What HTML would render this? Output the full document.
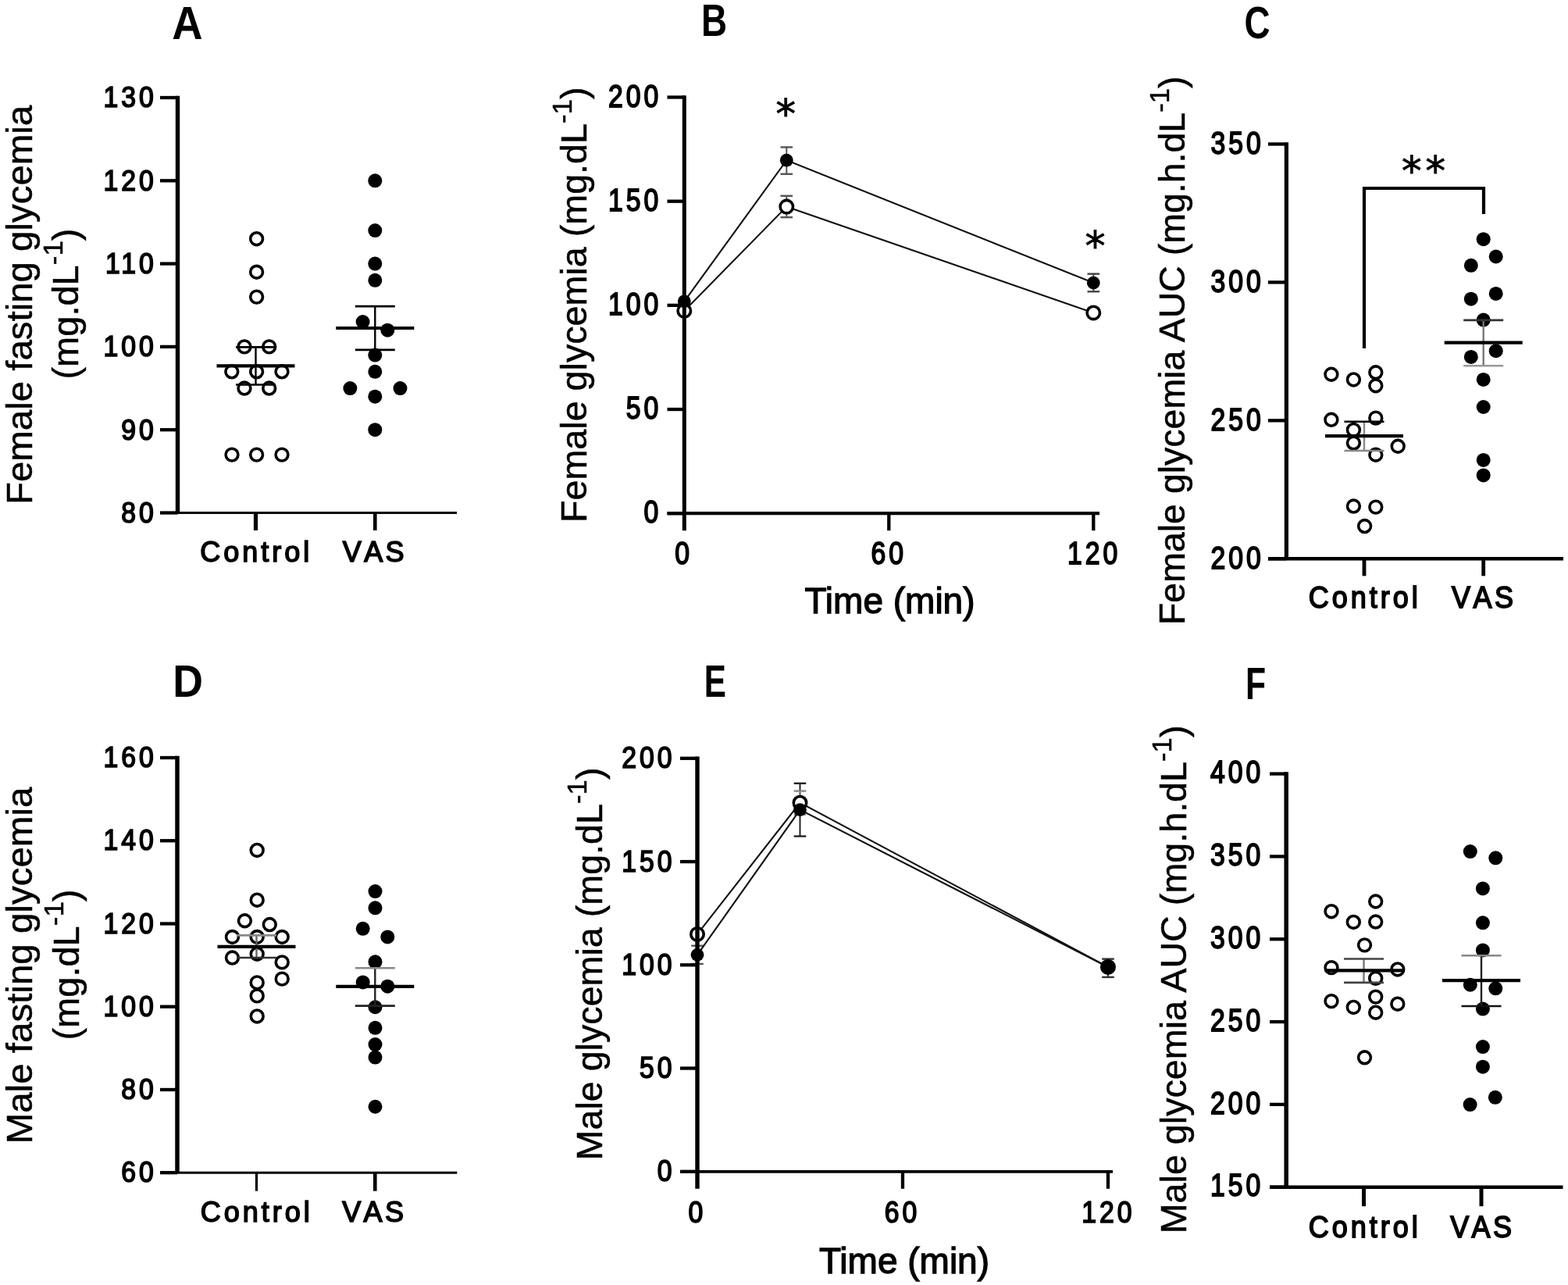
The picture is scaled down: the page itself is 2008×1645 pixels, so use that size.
<!DOCTYPE html>
<html><head><meta charset="utf-8"><title>Figure</title>
<style>html,body{margin:0;padding:0;background:#fff;}svg{display:block;}</style>
</head><body>
<svg xmlns="http://www.w3.org/2000/svg" width="2008" height="1645" viewBox="0 0 2008 1645">
<rect width="2008" height="1645" fill="#fff"/>
<g font-family='"Liberation Sans", Arial, Helvetica, sans-serif' fill="#000">
<line x1="227.50" y1="122.70" x2="227.50" y2="656.50" stroke="#000" stroke-width="5.4" stroke-linecap="butt"/>
<line x1="205.00" y1="656.50" x2="227.50" y2="656.50" stroke="#000" stroke-width="4.3" stroke-linecap="butt"/>
<text transform="translate(200.66,668.91) scale(0.9,1.0)" font-size="37.5" text-anchor="end" font-weight="normal" letter-spacing="4.4" stroke="#000" stroke-width="1.7">80</text>
<line x1="205.00" y1="550.20" x2="227.50" y2="550.20" stroke="#000" stroke-width="4.3" stroke-linecap="butt"/>
<text transform="translate(200.66,562.61) scale(0.9,1.0)" font-size="37.5" text-anchor="end" font-weight="normal" letter-spacing="4.4" stroke="#000" stroke-width="1.7">90</text>
<line x1="205.00" y1="443.90" x2="227.50" y2="443.90" stroke="#000" stroke-width="4.3" stroke-linecap="butt"/>
<text transform="translate(200.66,456.31) scale(0.9,1.0)" font-size="37.5" text-anchor="end" font-weight="normal" letter-spacing="4.4" stroke="#000" stroke-width="1.7">100</text>
<line x1="205.00" y1="337.60" x2="227.50" y2="337.60" stroke="#000" stroke-width="4.3" stroke-linecap="butt"/>
<text transform="translate(200.66,350.01) scale(0.9,1.0)" font-size="37.5" text-anchor="end" font-weight="normal" letter-spacing="4.4" stroke="#000" stroke-width="1.7">110</text>
<line x1="205.00" y1="231.30" x2="227.50" y2="231.30" stroke="#000" stroke-width="4.3" stroke-linecap="butt"/>
<text transform="translate(200.66,243.71) scale(0.9,1.0)" font-size="37.5" text-anchor="end" font-weight="normal" letter-spacing="4.4" stroke="#000" stroke-width="1.7">120</text>
<line x1="205.00" y1="125.00" x2="227.50" y2="125.00" stroke="#000" stroke-width="4.3" stroke-linecap="butt"/>
<text transform="translate(200.66,137.41) scale(0.9,1.0)" font-size="37.5" text-anchor="end" font-weight="normal" letter-spacing="4.4" stroke="#000" stroke-width="1.7">130</text>
<line x1="205.00" y1="656.50" x2="585.00" y2="656.50" stroke="#000" stroke-width="3.0" stroke-linecap="butt"/>
<line x1="327.50" y1="656.50" x2="327.50" y2="679.00" stroke="#000" stroke-width="5.2" stroke-linecap="butt"/>
<text x="328.30" y="718.50" font-size="36" text-anchor="middle" font-weight="normal" letter-spacing="4.0" stroke="#000" stroke-width="1.6" style="font-kerning:none">Control</text>
<line x1="480.30" y1="656.50" x2="480.30" y2="679.00" stroke="#000" stroke-width="4.6" stroke-linecap="butt"/>
<text x="479.90" y="718.50" font-size="36" text-anchor="middle" font-weight="normal" letter-spacing="3.4" stroke="#000" stroke-width="1.6" style="font-kerning:none">VAS</text>
<circle cx="328.60" cy="305.71" r="7.9" fill="none" stroke="#000" stroke-width="3.6"/>
<circle cx="328.60" cy="348.23" r="7.9" fill="none" stroke="#000" stroke-width="3.6"/>
<circle cx="328.60" cy="380.12" r="7.9" fill="none" stroke="#000" stroke-width="3.6"/>
<circle cx="313.00" cy="443.90" r="7.9" fill="none" stroke="#000" stroke-width="3.6"/>
<circle cx="344.70" cy="443.90" r="7.9" fill="none" stroke="#000" stroke-width="3.6"/>
<circle cx="296.80" cy="475.79" r="7.9" fill="none" stroke="#000" stroke-width="3.6"/>
<circle cx="328.60" cy="475.79" r="7.9" fill="none" stroke="#000" stroke-width="3.6"/>
<circle cx="361.00" cy="475.79" r="7.9" fill="none" stroke="#000" stroke-width="3.6"/>
<circle cx="313.00" cy="497.05" r="7.9" fill="none" stroke="#000" stroke-width="3.6"/>
<circle cx="344.70" cy="497.05" r="7.9" fill="none" stroke="#000" stroke-width="3.6"/>
<circle cx="297.00" cy="582.09" r="7.9" fill="none" stroke="#000" stroke-width="3.6"/>
<circle cx="328.60" cy="582.09" r="7.9" fill="none" stroke="#000" stroke-width="3.6"/>
<circle cx="361.00" cy="582.09" r="7.9" fill="none" stroke="#000" stroke-width="3.6"/>
<circle cx="480.30" cy="231.30" r="9.0" fill="#000"/>
<circle cx="480.30" cy="295.08" r="9.0" fill="#000"/>
<circle cx="480.30" cy="337.60" r="9.0" fill="#000"/>
<circle cx="480.30" cy="358.86" r="9.0" fill="#000"/>
<circle cx="464.60" cy="412.01" r="9.0" fill="#000"/>
<circle cx="496.30" cy="422.64" r="9.0" fill="#000"/>
<circle cx="480.30" cy="454.53" r="9.0" fill="#000"/>
<circle cx="480.30" cy="475.79" r="9.0" fill="#000"/>
<circle cx="448.40" cy="497.05" r="9.0" fill="#000"/>
<circle cx="512.50" cy="497.05" r="9.0" fill="#000"/>
<circle cx="480.30" cy="507.68" r="9.0" fill="#000"/>
<circle cx="480.30" cy="550.20" r="9.0" fill="#000"/>
<line x1="327.50" y1="492.48" x2="327.50" y2="444.33" stroke="#000" stroke-width="2.4" stroke-linecap="butt"/>
<line x1="302.00" y1="444.33" x2="353.00" y2="444.33" stroke="#000" stroke-width="2.6" stroke-linecap="butt"/>
<line x1="302.00" y1="492.48" x2="353.00" y2="492.48" stroke="#000" stroke-width="2.6" stroke-linecap="butt"/>
<line x1="277.50" y1="468.46" x2="377.50" y2="468.46" stroke="#000" stroke-width="4.2" stroke-linecap="butt"/>
<line x1="480.30" y1="447.83" x2="480.30" y2="392.13" stroke="#000" stroke-width="2.4" stroke-linecap="butt"/>
<line x1="454.80" y1="392.13" x2="505.80" y2="392.13" stroke="#000" stroke-width="2.6" stroke-linecap="butt"/>
<line x1="454.80" y1="447.83" x2="505.80" y2="447.83" stroke="#000" stroke-width="2.6" stroke-linecap="butt"/>
<line x1="430.30" y1="419.98" x2="530.30" y2="419.98" stroke="#000" stroke-width="4.2" stroke-linecap="butt"/>
<text transform="translate(41.00,390.40) rotate(-90) scale(1.009,1)" font-size="47" text-anchor="middle" font-weight="normal" stroke="#000" stroke-width="0.5"><tspan>Female fasting glycemia</tspan></text>
<text transform="translate(99.50,389.00) rotate(-90)" font-size="47" text-anchor="middle" font-weight="normal" stroke="#000" stroke-width="0.5"><tspan>(mg.dL</tspan><tspan font-size="35" dy="-19.7">-1</tspan><tspan dy="19.7">)</tspan></text>
<text transform="translate(220.15,50.00) scale(0.9242,1)" font-size="58.87" font-weight="bold">A</text>
<text transform="translate(847.16,669.20) scale(0.9,1.1)" font-size="37.5" text-anchor="end" font-weight="normal" letter-spacing="4.4" stroke="#000" stroke-width="1.7">0</text>
<text transform="translate(847.16,536.02) scale(0.9,1.1)" font-size="37.5" text-anchor="end" font-weight="normal" letter-spacing="4.4" stroke="#000" stroke-width="1.7">50</text>
<text transform="translate(847.16,402.85) scale(0.9,1.1)" font-size="37.5" text-anchor="end" font-weight="normal" letter-spacing="4.4" stroke="#000" stroke-width="1.7">100</text>
<text transform="translate(847.16,269.67) scale(0.9,1.1)" font-size="37.5" text-anchor="end" font-weight="normal" letter-spacing="4.4" stroke="#000" stroke-width="1.7">150</text>
<text transform="translate(847.16,136.50) scale(0.9,1.1)" font-size="37.5" text-anchor="end" font-weight="normal" letter-spacing="4.4" stroke="#000" stroke-width="1.7">200</text>
<text transform="translate(875.58,722.20) scale(0.9,1.1)" font-size="37.5" text-anchor="middle" font-weight="normal" letter-spacing="4.4" stroke="#000" stroke-width="1.7">0</text>
<text transform="translate(1138.18,722.20) scale(0.9,1.1)" font-size="37.5" text-anchor="middle" font-weight="normal" letter-spacing="4.4" stroke="#000" stroke-width="1.7">60</text>
<text transform="translate(1401.18,722.20) scale(0.9,1.1)" font-size="37.5" text-anchor="middle" font-weight="normal" letter-spacing="4.4" stroke="#000" stroke-width="1.7">120</text>
<text x="1139.50" y="785.40" font-size="46" text-anchor="middle" font-weight="normal" stroke="#000" stroke-width="1.3">Time (min)</text>
<line x1="1007.30" y1="222.78" x2="1007.30" y2="188.42" stroke="#555" stroke-width="2.0" stroke-linecap="butt"/>
<line x1="999.50" y1="188.42" x2="1015.10" y2="188.42" stroke="#555" stroke-width="2.4" stroke-linecap="butt"/>
<line x1="999.50" y1="222.78" x2="1015.10" y2="222.78" stroke="#555" stroke-width="2.4" stroke-linecap="butt"/>
<line x1="1007.30" y1="278.18" x2="1007.30" y2="250.75" stroke="#555" stroke-width="2.0" stroke-linecap="butt"/>
<line x1="999.50" y1="250.75" x2="1015.10" y2="250.75" stroke="#555" stroke-width="2.4" stroke-linecap="butt"/>
<line x1="999.50" y1="278.18" x2="1015.10" y2="278.18" stroke="#555" stroke-width="2.4" stroke-linecap="butt"/>
<line x1="1400.30" y1="373.27" x2="1400.30" y2="350.63" stroke="#444" stroke-width="2.0" stroke-linecap="butt"/>
<line x1="1392.50" y1="350.63" x2="1408.10" y2="350.63" stroke="#444" stroke-width="2.4" stroke-linecap="butt"/>
<line x1="1392.50" y1="373.27" x2="1408.10" y2="373.27" stroke="#444" stroke-width="2.4" stroke-linecap="butt"/>
<polyline points="876.30,398.04 1007.30,264.60 1400.30,400.44" fill="none" stroke="#111" stroke-width="2.1"/>
<polyline points="876.30,385.79 1007.30,205.20 1400.30,362.08" fill="none" stroke="#111" stroke-width="2.1"/>
<circle cx="876.30" cy="398.04" r="8.2" fill="#fff" stroke="#000" stroke-width="3.6"/>
<circle cx="1007.30" cy="264.60" r="8.2" fill="#fff" stroke="#000" stroke-width="3.6"/>
<circle cx="1400.30" cy="400.44" r="8.2" fill="#fff" stroke="#000" stroke-width="3.6"/>
<circle cx="876.30" cy="385.79" r="8.4" fill="#000"/>
<circle cx="1007.30" cy="205.20" r="8.4" fill="#000"/>
<circle cx="1400.30" cy="362.08" r="8.4" fill="#000"/>
<line x1="876.30" y1="122.20" x2="876.30" y2="679.20" stroke="#000" stroke-width="5.0" stroke-linecap="butt"/>
<line x1="854.50" y1="657.20" x2="876.30" y2="657.20" stroke="#000" stroke-width="4.3" stroke-linecap="butt"/>
<line x1="854.50" y1="524.03" x2="876.30" y2="524.03" stroke="#000" stroke-width="4.3" stroke-linecap="butt"/>
<line x1="854.50" y1="390.85" x2="876.30" y2="390.85" stroke="#000" stroke-width="4.3" stroke-linecap="butt"/>
<line x1="854.50" y1="257.68" x2="876.30" y2="257.68" stroke="#000" stroke-width="4.3" stroke-linecap="butt"/>
<line x1="854.50" y1="124.50" x2="876.30" y2="124.50" stroke="#000" stroke-width="4.3" stroke-linecap="butt"/>
<line x1="854.50" y1="657.20" x2="1408.00" y2="657.20" stroke="#000" stroke-width="4.3" stroke-linecap="butt"/>
<line x1="1138.30" y1="657.20" x2="1138.30" y2="679.20" stroke="#000" stroke-width="4.3" stroke-linecap="butt"/>
<line x1="1400.30" y1="657.20" x2="1400.30" y2="679.20" stroke="#000" stroke-width="4.3" stroke-linecap="butt"/>
<text transform="translate(751.40,390.30) rotate(-90) scale(0.9935,1)" font-size="47" text-anchor="middle" font-weight="normal" stroke="#000" stroke-width="0.5"><tspan>Female glycemia (mg.dL</tspan><tspan font-size="35" dy="-19.7">-1</tspan><tspan dy="19.7">)</tspan></text>
<text transform="translate(897.93,46.30) scale(0.7896,1)" font-size="58.14" font-weight="bold">B</text>
<text x="1006.30" y="163.70" font-size="51" text-anchor="middle" font-weight="normal" font-family="DejaVu Sans" stroke="#000" stroke-width="0.9">*</text>
<text x="1402.60" y="333.30" font-size="52" text-anchor="middle" font-weight="normal" font-family="DejaVu Sans" stroke="#000" stroke-width="0.9">*</text>
<line x1="1647.40" y1="182.15" x2="1647.40" y2="715.30" stroke="#000" stroke-width="5.2" stroke-linecap="butt"/>
<line x1="1624.00" y1="715.30" x2="1647.40" y2="715.30" stroke="#000" stroke-width="4.3" stroke-linecap="butt"/>
<text transform="translate(1618.76,727.60) scale(0.9,1.1)" font-size="37.5" text-anchor="end" font-weight="normal" letter-spacing="4.4" stroke="#000" stroke-width="1.7">200</text>
<line x1="1624.00" y1="538.35" x2="1647.40" y2="538.35" stroke="#000" stroke-width="4.3" stroke-linecap="butt"/>
<text transform="translate(1618.76,550.65) scale(0.9,1.1)" font-size="37.5" text-anchor="end" font-weight="normal" letter-spacing="4.4" stroke="#000" stroke-width="1.7">250</text>
<line x1="1624.00" y1="361.40" x2="1647.40" y2="361.40" stroke="#000" stroke-width="4.3" stroke-linecap="butt"/>
<text transform="translate(1618.76,373.70) scale(0.9,1.1)" font-size="37.5" text-anchor="end" font-weight="normal" letter-spacing="4.4" stroke="#000" stroke-width="1.7">300</text>
<line x1="1624.00" y1="184.45" x2="1647.40" y2="184.45" stroke="#000" stroke-width="4.3" stroke-linecap="butt"/>
<text transform="translate(1618.76,196.75) scale(0.9,1.1)" font-size="37.5" text-anchor="end" font-weight="normal" letter-spacing="4.4" stroke="#000" stroke-width="1.7">350</text>
<line x1="1624.00" y1="715.30" x2="2002.00" y2="715.30" stroke="#000" stroke-width="4.4" stroke-linecap="butt"/>
<line x1="1747.00" y1="715.30" x2="1747.00" y2="737.30" stroke="#000" stroke-width="4.8" stroke-linecap="butt"/>
<text transform="translate(1747.80,778.30) scale(1.0,1.1)" font-size="36" text-anchor="middle" font-weight="normal" letter-spacing="4.0" stroke="#000" stroke-width="1.6" style="font-kerning:none">Control</text>
<line x1="1899.70" y1="715.30" x2="1899.70" y2="737.30" stroke="#000" stroke-width="4.8" stroke-linecap="butt"/>
<text transform="translate(1900.20,778.30) scale(1.0,1.1)" font-size="36" text-anchor="middle" font-weight="normal" letter-spacing="3.4" stroke="#000" stroke-width="1.6" style="font-kerning:none">VAS</text>
<circle cx="1704.90" cy="479.25" r="7.9" fill="none" stroke="#000" stroke-width="3.6"/>
<circle cx="1733.40" cy="485.97" r="7.9" fill="none" stroke="#000" stroke-width="3.6"/>
<circle cx="1761.80" cy="476.77" r="7.9" fill="none" stroke="#000" stroke-width="3.6"/>
<circle cx="1761.80" cy="493.76" r="7.9" fill="none" stroke="#000" stroke-width="3.6"/>
<circle cx="1704.90" cy="537.29" r="7.9" fill="none" stroke="#000" stroke-width="3.6"/>
<circle cx="1761.80" cy="535.16" r="7.9" fill="none" stroke="#000" stroke-width="3.6"/>
<circle cx="1733.40" cy="550.38" r="7.9" fill="none" stroke="#000" stroke-width="3.6"/>
<circle cx="1733.40" cy="567.02" r="7.9" fill="none" stroke="#000" stroke-width="3.6"/>
<circle cx="1790.20" cy="571.26" r="7.9" fill="none" stroke="#000" stroke-width="3.6"/>
<circle cx="1761.80" cy="582.23" r="7.9" fill="none" stroke="#000" stroke-width="3.6"/>
<circle cx="1733.40" cy="648.06" r="7.9" fill="none" stroke="#000" stroke-width="3.6"/>
<circle cx="1761.80" cy="649.12" r="7.9" fill="none" stroke="#000" stroke-width="3.6"/>
<circle cx="1747.60" cy="673.54" r="7.9" fill="none" stroke="#000" stroke-width="3.6"/>
<circle cx="1899.70" cy="306.19" r="9.0" fill="#000"/>
<circle cx="1915.70" cy="328.49" r="9.0" fill="#000"/>
<circle cx="1883.80" cy="339.81" r="9.0" fill="#000"/>
<circle cx="1915.70" cy="375.91" r="9.0" fill="#000"/>
<circle cx="1883.80" cy="382.63" r="9.0" fill="#000"/>
<circle cx="1899.70" cy="409.53" r="9.0" fill="#000"/>
<circle cx="1915.70" cy="449.17" r="9.0" fill="#000"/>
<circle cx="1883.80" cy="456.95" r="9.0" fill="#000"/>
<circle cx="1899.70" cy="485.97" r="9.0" fill="#000"/>
<circle cx="1899.70" cy="521.01" r="9.0" fill="#000"/>
<circle cx="1899.70" cy="588.96" r="9.0" fill="#000"/>
<circle cx="1899.70" cy="608.42" r="9.0" fill="#000"/>
<line x1="1747.00" y1="576.93" x2="1747.00" y2="539.77" stroke="#888" stroke-width="2.4" stroke-linecap="butt"/>
<line x1="1721.50" y1="539.77" x2="1772.50" y2="539.77" stroke="#000" stroke-width="2.6" stroke-linecap="butt"/>
<line x1="1721.50" y1="576.93" x2="1772.50" y2="576.93" stroke="#888" stroke-width="2.6" stroke-linecap="butt"/>
<line x1="1697.00" y1="558.17" x2="1797.00" y2="558.17" stroke="#000" stroke-width="4.2" stroke-linecap="butt"/>
<line x1="1899.70" y1="468.28" x2="1899.70" y2="409.88" stroke="#777" stroke-width="2.4" stroke-linecap="butt"/>
<line x1="1874.20" y1="409.88" x2="1925.20" y2="409.88" stroke="#333" stroke-width="2.6" stroke-linecap="butt"/>
<line x1="1874.20" y1="468.28" x2="1925.20" y2="468.28" stroke="#999" stroke-width="2.6" stroke-linecap="butt"/>
<line x1="1849.70" y1="438.55" x2="1949.70" y2="438.55" stroke="#000" stroke-width="4.2" stroke-linecap="butt"/>
<text transform="translate(1517.00,448.80) rotate(-90) scale(0.9893,1)" font-size="47" text-anchor="middle" font-weight="normal" stroke="#000" stroke-width="0.5"><tspan>Female glycemia AUC (mg.h.dL</tspan><tspan font-size="35" dy="-19.7">-1</tspan><tspan dy="19.7">)</tspan></text>
<text transform="translate(1593.42,48.94) scale(0.7995,1)" font-size="57.20" font-weight="bold">C</text>
<polyline points="1747,446 1747,241 1900,241 1900,274" fill="none" stroke="#000" stroke-width="4.2"/>
<text x="1825.40" y="237.00" font-size="51" text-anchor="middle" font-weight="normal" font-family="DejaVu Sans" stroke="#000" stroke-width="0.9" letter-spacing="5">**</text>
<line x1="227.00" y1="967.70" x2="227.00" y2="1501.20" stroke="#000" stroke-width="5.5" stroke-linecap="butt"/>
<line x1="205.00" y1="1501.20" x2="227.00" y2="1501.20" stroke="#000" stroke-width="4.3" stroke-linecap="butt"/>
<text transform="translate(200.66,1513.31) scale(0.9,1.0)" font-size="37.5" text-anchor="end" font-weight="normal" letter-spacing="4.4" stroke="#000" stroke-width="1.7">60</text>
<line x1="205.00" y1="1394.96" x2="227.00" y2="1394.96" stroke="#000" stroke-width="4.3" stroke-linecap="butt"/>
<text transform="translate(200.66,1407.07) scale(0.9,1.0)" font-size="37.5" text-anchor="end" font-weight="normal" letter-spacing="4.4" stroke="#000" stroke-width="1.7">80</text>
<line x1="205.00" y1="1288.72" x2="227.00" y2="1288.72" stroke="#000" stroke-width="4.3" stroke-linecap="butt"/>
<text transform="translate(200.66,1300.83) scale(0.9,1.0)" font-size="37.5" text-anchor="end" font-weight="normal" letter-spacing="4.4" stroke="#000" stroke-width="1.7">100</text>
<line x1="205.00" y1="1182.48" x2="227.00" y2="1182.48" stroke="#000" stroke-width="4.3" stroke-linecap="butt"/>
<text transform="translate(200.66,1194.59) scale(0.9,1.0)" font-size="37.5" text-anchor="end" font-weight="normal" letter-spacing="4.4" stroke="#000" stroke-width="1.7">120</text>
<line x1="205.00" y1="1076.24" x2="227.00" y2="1076.24" stroke="#000" stroke-width="4.3" stroke-linecap="butt"/>
<text transform="translate(200.66,1088.35) scale(0.9,1.0)" font-size="37.5" text-anchor="end" font-weight="normal" letter-spacing="4.4" stroke="#000" stroke-width="1.7">140</text>
<line x1="205.00" y1="970.00" x2="227.00" y2="970.00" stroke="#000" stroke-width="4.3" stroke-linecap="butt"/>
<text transform="translate(200.66,982.11) scale(0.9,1.0)" font-size="37.5" text-anchor="end" font-weight="normal" letter-spacing="4.4" stroke="#000" stroke-width="1.7">160</text>
<line x1="205.00" y1="1501.20" x2="585.30" y2="1501.20" stroke="#000" stroke-width="2.9" stroke-linecap="butt"/>
<line x1="328.50" y1="1501.20" x2="328.50" y2="1524.70" stroke="#000" stroke-width="3.2" stroke-linecap="butt"/>
<text x="328.70" y="1564.40" font-size="36" text-anchor="middle" font-weight="normal" letter-spacing="4.0" stroke="#000" stroke-width="1.6" style="font-kerning:none">Control</text>
<line x1="480.30" y1="1501.20" x2="480.30" y2="1524.70" stroke="#000" stroke-width="4.6" stroke-linecap="butt"/>
<text x="479.30" y="1564.40" font-size="36" text-anchor="middle" font-weight="normal" letter-spacing="3.4" stroke="#000" stroke-width="1.6" style="font-kerning:none">VAS</text>
<circle cx="329.20" cy="1088.46" r="7.9" fill="none" stroke="#000" stroke-width="3.6"/>
<circle cx="329.20" cy="1152.20" r="7.9" fill="none" stroke="#000" stroke-width="3.6"/>
<circle cx="313.40" cy="1178.76" r="7.9" fill="none" stroke="#000" stroke-width="3.6"/>
<circle cx="345.30" cy="1183.54" r="7.9" fill="none" stroke="#000" stroke-width="3.6"/>
<circle cx="297.50" cy="1199.48" r="7.9" fill="none" stroke="#000" stroke-width="3.6"/>
<circle cx="329.20" cy="1199.48" r="7.9" fill="none" stroke="#000" stroke-width="3.6"/>
<circle cx="361.20" cy="1199.48" r="7.9" fill="none" stroke="#000" stroke-width="3.6"/>
<circle cx="297.50" cy="1226.04" r="7.9" fill="none" stroke="#000" stroke-width="3.6"/>
<circle cx="329.20" cy="1221.26" r="7.9" fill="none" stroke="#000" stroke-width="3.6"/>
<circle cx="361.20" cy="1231.88" r="7.9" fill="none" stroke="#000" stroke-width="3.6"/>
<circle cx="361.20" cy="1253.13" r="7.9" fill="none" stroke="#000" stroke-width="3.6"/>
<circle cx="329.20" cy="1257.91" r="7.9" fill="none" stroke="#000" stroke-width="3.6"/>
<circle cx="329.20" cy="1274.91" r="7.9" fill="none" stroke="#000" stroke-width="3.6"/>
<circle cx="329.20" cy="1300.94" r="7.9" fill="none" stroke="#000" stroke-width="3.6"/>
<circle cx="480.50" cy="1141.05" r="9.0" fill="#000"/>
<circle cx="480.50" cy="1162.29" r="9.0" fill="#000"/>
<circle cx="464.70" cy="1188.85" r="9.0" fill="#000"/>
<circle cx="496.30" cy="1199.48" r="9.0" fill="#000"/>
<circle cx="480.50" cy="1231.35" r="9.0" fill="#000"/>
<circle cx="464.70" cy="1257.38" r="9.0" fill="#000"/>
<circle cx="496.30" cy="1262.69" r="9.0" fill="#000"/>
<circle cx="480.50" cy="1289.25" r="9.0" fill="#000"/>
<circle cx="480.50" cy="1315.81" r="9.0" fill="#000"/>
<circle cx="480.50" cy="1337.06" r="9.0" fill="#000"/>
<circle cx="480.50" cy="1353.53" r="9.0" fill="#000"/>
<circle cx="480.50" cy="1416.74" r="9.0" fill="#000"/>
<line x1="328.50" y1="1226.04" x2="328.50" y2="1197.35" stroke="#666" stroke-width="2.4" stroke-linecap="butt"/>
<line x1="303.00" y1="1197.35" x2="354.00" y2="1197.35" stroke="#888" stroke-width="2.6" stroke-linecap="butt"/>
<line x1="303.00" y1="1226.04" x2="354.00" y2="1226.04" stroke="#333" stroke-width="2.6" stroke-linecap="butt"/>
<line x1="278.50" y1="1211.96" x2="378.50" y2="1211.96" stroke="#000" stroke-width="4.2" stroke-linecap="butt"/>
<line x1="480.30" y1="1287.66" x2="480.30" y2="1239.32" stroke="#222" stroke-width="2.4" stroke-linecap="butt"/>
<line x1="454.80" y1="1239.32" x2="505.80" y2="1239.32" stroke="#888" stroke-width="2.6" stroke-linecap="butt"/>
<line x1="454.80" y1="1287.66" x2="505.80" y2="1287.66" stroke="#222" stroke-width="2.6" stroke-linecap="butt"/>
<line x1="430.30" y1="1262.96" x2="530.30" y2="1262.96" stroke="#000" stroke-width="4.2" stroke-linecap="butt"/>
<text transform="translate(40.70,1236.00) rotate(-90) scale(1.011,1)" font-size="47" text-anchor="middle" font-weight="normal" stroke="#000" stroke-width="0.5"><tspan>Male fasting glycemia</tspan></text>
<text transform="translate(101.00,1235.00) rotate(-90)" font-size="47" text-anchor="middle" font-weight="normal" stroke="#000" stroke-width="0.5"><tspan>(mg.dL</tspan><tspan font-size="35" dy="-19.7">-1</tspan><tspan dy="19.7">)</tspan></text>
<text transform="translate(221.21,892.20) scale(0.9273,1)" font-size="57.85" font-weight="bold">D</text>
<text transform="translate(864.56,1512.47) scale(0.9,1.02)" font-size="37.5" text-anchor="end" font-weight="normal" letter-spacing="4.4" stroke="#000" stroke-width="1.7">0</text>
<text transform="translate(864.56,1380.22) scale(0.9,1.02)" font-size="37.5" text-anchor="end" font-weight="normal" letter-spacing="4.4" stroke="#000" stroke-width="1.7">50</text>
<text transform="translate(864.56,1247.97) scale(0.9,1.02)" font-size="37.5" text-anchor="end" font-weight="normal" letter-spacing="4.4" stroke="#000" stroke-width="1.7">100</text>
<text transform="translate(864.56,1115.72) scale(0.9,1.02)" font-size="37.5" text-anchor="end" font-weight="normal" letter-spacing="4.4" stroke="#000" stroke-width="1.7">150</text>
<text transform="translate(864.56,983.47) scale(0.9,1.02)" font-size="37.5" text-anchor="end" font-weight="normal" letter-spacing="4.4" stroke="#000" stroke-width="1.7">200</text>
<text transform="translate(892.98,1564.80) scale(0.9,1.02)" font-size="37.5" text-anchor="middle" font-weight="normal" letter-spacing="4.4" stroke="#000" stroke-width="1.7">0</text>
<text transform="translate(1155.38,1564.80) scale(0.9,1.02)" font-size="37.5" text-anchor="middle" font-weight="normal" letter-spacing="4.4" stroke="#000" stroke-width="1.7">60</text>
<text transform="translate(1419.38,1564.80) scale(0.9,1.02)" font-size="37.5" text-anchor="middle" font-weight="normal" letter-spacing="4.4" stroke="#000" stroke-width="1.7">120</text>
<text x="1158.00" y="1629.80" font-size="46" text-anchor="middle" font-weight="normal" stroke="#000" stroke-width="1.3">Time (min)</text>
<line x1="1024.49" y1="1070.52" x2="1024.49" y2="1002.80" stroke="#222" stroke-width="2.0" stroke-linecap="butt"/>
<line x1="1016.69" y1="1002.80" x2="1032.29" y2="1002.80" stroke="#222" stroke-width="2.4" stroke-linecap="butt"/>
<line x1="1016.69" y1="1070.52" x2="1032.29" y2="1070.52" stroke="#222" stroke-width="2.4" stroke-linecap="butt"/>
<line x1="1024.49" y1="1042.74" x2="1024.49" y2="1012.59" stroke="#888" stroke-width="2.0" stroke-linecap="butt"/>
<line x1="1016.69" y1="1012.59" x2="1032.29" y2="1012.59" stroke="#888" stroke-width="2.4" stroke-linecap="butt"/>
<line x1="1016.69" y1="1042.74" x2="1032.29" y2="1042.74" stroke="#888" stroke-width="2.4" stroke-linecap="butt"/>
<line x1="1418.96" y1="1250.91" x2="1418.96" y2="1227.63" stroke="#333" stroke-width="2.0" stroke-linecap="butt"/>
<line x1="1411.16" y1="1227.63" x2="1426.76" y2="1227.63" stroke="#333" stroke-width="2.4" stroke-linecap="butt"/>
<line x1="1411.16" y1="1250.91" x2="1426.76" y2="1250.91" stroke="#333" stroke-width="2.4" stroke-linecap="butt"/>
<line x1="893.00" y1="1233.98" x2="893.00" y2="1210.70" stroke="#555" stroke-width="2.0" stroke-linecap="butt"/>
<line x1="885.20" y1="1210.70" x2="900.80" y2="1210.70" stroke="#555" stroke-width="2.4" stroke-linecap="butt"/>
<line x1="885.20" y1="1233.98" x2="900.80" y2="1233.98" stroke="#555" stroke-width="2.4" stroke-linecap="butt"/>
<polyline points="893.00,1195.89 1024.49,1027.67 1418.96,1237.94" fill="none" stroke="#111" stroke-width="2.1"/>
<polyline points="893.00,1222.34 1024.49,1036.66 1418.96,1237.94" fill="none" stroke="#111" stroke-width="2.1"/>
<circle cx="893.00" cy="1195.89" r="8.2" fill="#fff" stroke="#000" stroke-width="3.6"/>
<circle cx="1024.49" cy="1027.67" r="8.2" fill="#fff" stroke="#000" stroke-width="3.6"/>
<circle cx="1418.96" cy="1237.94" r="8.2" fill="#fff" stroke="#000" stroke-width="3.6"/>
<circle cx="893.00" cy="1222.34" r="8.4" fill="#000"/>
<circle cx="1024.49" cy="1036.66" r="8.4" fill="#000"/>
<circle cx="1418.96" cy="1237.94" r="8.4" fill="#000"/>
<line x1="893.00" y1="968.50" x2="893.00" y2="1521.80" stroke="#000" stroke-width="5.4" stroke-linecap="butt"/>
<line x1="871.00" y1="1499.80" x2="893.00" y2="1499.80" stroke="#000" stroke-width="4.3" stroke-linecap="butt"/>
<line x1="871.00" y1="1367.55" x2="893.00" y2="1367.55" stroke="#000" stroke-width="4.3" stroke-linecap="butt"/>
<line x1="871.00" y1="1235.30" x2="893.00" y2="1235.30" stroke="#000" stroke-width="4.3" stroke-linecap="butt"/>
<line x1="871.00" y1="1103.05" x2="893.00" y2="1103.05" stroke="#000" stroke-width="4.3" stroke-linecap="butt"/>
<line x1="871.00" y1="970.80" x2="893.00" y2="970.80" stroke="#000" stroke-width="4.3" stroke-linecap="butt"/>
<line x1="871.00" y1="1499.80" x2="1425.00" y2="1499.80" stroke="#000" stroke-width="3.8" stroke-linecap="butt"/>
<line x1="1155.98" y1="1499.80" x2="1155.98" y2="1521.80" stroke="#000" stroke-width="4.3" stroke-linecap="butt"/>
<line x1="1418.96" y1="1499.80" x2="1418.96" y2="1521.80" stroke="#000" stroke-width="4.3" stroke-linecap="butt"/>
<text transform="translate(770.70,1234.00) rotate(-90) scale(0.993,1)" font-size="47" text-anchor="middle" font-weight="normal" stroke="#000" stroke-width="0.5"><tspan>Male glycemia (mg.dL</tspan><tspan font-size="35" dy="-19.7">-1</tspan><tspan dy="19.7">)</tspan></text>
<text transform="translate(901.77,892.20) scale(0.7303,1)" font-size="57.85" font-weight="bold">E</text>
<line x1="1647.20" y1="988.30" x2="1647.20" y2="1519.70" stroke="#000" stroke-width="5.5" stroke-linecap="butt"/>
<line x1="1626.00" y1="1519.70" x2="1647.20" y2="1519.70" stroke="#000" stroke-width="4.3" stroke-linecap="butt"/>
<text transform="translate(1618.16,1531.40) scale(0.9,1.1)" font-size="37.5" text-anchor="end" font-weight="normal" letter-spacing="4.4" stroke="#000" stroke-width="1.7">150</text>
<line x1="1626.00" y1="1413.88" x2="1647.20" y2="1413.88" stroke="#000" stroke-width="4.3" stroke-linecap="butt"/>
<text transform="translate(1618.16,1425.58) scale(0.9,1.1)" font-size="37.5" text-anchor="end" font-weight="normal" letter-spacing="4.4" stroke="#000" stroke-width="1.7">200</text>
<line x1="1626.00" y1="1308.06" x2="1647.20" y2="1308.06" stroke="#000" stroke-width="4.3" stroke-linecap="butt"/>
<text transform="translate(1618.16,1319.76) scale(0.9,1.1)" font-size="37.5" text-anchor="end" font-weight="normal" letter-spacing="4.4" stroke="#000" stroke-width="1.7">250</text>
<line x1="1626.00" y1="1202.24" x2="1647.20" y2="1202.24" stroke="#000" stroke-width="4.3" stroke-linecap="butt"/>
<text transform="translate(1618.16,1213.94) scale(0.9,1.1)" font-size="37.5" text-anchor="end" font-weight="normal" letter-spacing="4.4" stroke="#000" stroke-width="1.7">300</text>
<line x1="1626.00" y1="1096.42" x2="1647.20" y2="1096.42" stroke="#000" stroke-width="4.3" stroke-linecap="butt"/>
<text transform="translate(1618.16,1108.12) scale(0.9,1.1)" font-size="37.5" text-anchor="end" font-weight="normal" letter-spacing="4.4" stroke="#000" stroke-width="1.7">350</text>
<line x1="1626.00" y1="990.60" x2="1647.20" y2="990.60" stroke="#000" stroke-width="4.3" stroke-linecap="butt"/>
<text transform="translate(1618.16,1002.30) scale(0.9,1.1)" font-size="37.5" text-anchor="end" font-weight="normal" letter-spacing="4.4" stroke="#000" stroke-width="1.7">400</text>
<line x1="1626.00" y1="1519.70" x2="2001.50" y2="1519.70" stroke="#000" stroke-width="4.4" stroke-linecap="butt"/>
<line x1="1746.50" y1="1519.70" x2="1746.50" y2="1544.20" stroke="#000" stroke-width="5.0" stroke-linecap="butt"/>
<text transform="translate(1747.70,1584.00) scale(1.0,1.1)" font-size="36" text-anchor="middle" font-weight="normal" letter-spacing="4.0" stroke="#000" stroke-width="1.6" style="font-kerning:none">Control</text>
<line x1="1897.00" y1="1519.70" x2="1897.00" y2="1544.20" stroke="#000" stroke-width="5.0" stroke-linecap="butt"/>
<text transform="translate(1898.30,1584.00) scale(1.0,1.1)" font-size="36" text-anchor="middle" font-weight="normal" letter-spacing="3.4" stroke="#000" stroke-width="1.6" style="font-kerning:none">VAS</text>
<circle cx="1761.70" cy="1153.99" r="7.9" fill="none" stroke="#000" stroke-width="3.6"/>
<circle cx="1705.00" cy="1166.68" r="7.9" fill="none" stroke="#000" stroke-width="3.6"/>
<circle cx="1733.30" cy="1180.44" r="7.9" fill="none" stroke="#000" stroke-width="3.6"/>
<circle cx="1761.70" cy="1180.02" r="7.9" fill="none" stroke="#000" stroke-width="3.6"/>
<circle cx="1747.50" cy="1209.86" r="7.9" fill="none" stroke="#000" stroke-width="3.6"/>
<circle cx="1705.00" cy="1238.64" r="7.9" fill="none" stroke="#000" stroke-width="3.6"/>
<circle cx="1789.80" cy="1240.97" r="7.9" fill="none" stroke="#000" stroke-width="3.6"/>
<circle cx="1761.70" cy="1252.40" r="7.9" fill="none" stroke="#000" stroke-width="3.6"/>
<circle cx="1761.70" cy="1276.10" r="7.9" fill="none" stroke="#000" stroke-width="3.6"/>
<circle cx="1705.00" cy="1281.61" r="7.9" fill="none" stroke="#000" stroke-width="3.6"/>
<circle cx="1789.80" cy="1285.20" r="7.9" fill="none" stroke="#000" stroke-width="3.6"/>
<circle cx="1733.30" cy="1289.44" r="7.9" fill="none" stroke="#000" stroke-width="3.6"/>
<circle cx="1761.70" cy="1296.21" r="7.9" fill="none" stroke="#000" stroke-width="3.6"/>
<circle cx="1747.50" cy="1353.77" r="7.9" fill="none" stroke="#000" stroke-width="3.6"/>
<circle cx="1882.80" cy="1090.07" r="9.0" fill="#000"/>
<circle cx="1915.30" cy="1098.32" r="9.0" fill="#000"/>
<circle cx="1898.90" cy="1137.48" r="9.0" fill="#000"/>
<circle cx="1898.90" cy="1181.29" r="9.0" fill="#000"/>
<circle cx="1898.90" cy="1216.42" r="9.0" fill="#000"/>
<circle cx="1882.80" cy="1260.65" r="9.0" fill="#000"/>
<circle cx="1915.30" cy="1265.31" r="9.0" fill="#000"/>
<circle cx="1898.90" cy="1291.55" r="9.0" fill="#000"/>
<circle cx="1898.90" cy="1340.02" r="9.0" fill="#000"/>
<circle cx="1898.90" cy="1365.63" r="9.0" fill="#000"/>
<circle cx="1882.60" cy="1414.09" r="9.0" fill="#000"/>
<circle cx="1914.80" cy="1404.78" r="9.0" fill="#000"/>
<line x1="1746.50" y1="1257.90" x2="1746.50" y2="1227.43" stroke="#777" stroke-width="2.4" stroke-linecap="butt"/>
<line x1="1721.00" y1="1227.43" x2="1772.00" y2="1227.43" stroke="#444" stroke-width="2.6" stroke-linecap="butt"/>
<line x1="1721.00" y1="1257.90" x2="1772.00" y2="1257.90" stroke="#444" stroke-width="2.6" stroke-linecap="butt"/>
<line x1="1696.50" y1="1242.45" x2="1796.50" y2="1242.45" stroke="#000" stroke-width="4.2" stroke-linecap="butt"/>
<line x1="1897.00" y1="1287.95" x2="1897.00" y2="1223.19" stroke="#222" stroke-width="2.4" stroke-linecap="butt"/>
<line x1="1871.50" y1="1223.19" x2="1922.50" y2="1223.19" stroke="#888" stroke-width="2.6" stroke-linecap="butt"/>
<line x1="1871.50" y1="1287.95" x2="1922.50" y2="1287.95" stroke="#111" stroke-width="2.6" stroke-linecap="butt"/>
<line x1="1847.00" y1="1255.15" x2="1947.00" y2="1255.15" stroke="#000" stroke-width="4.2" stroke-linecap="butt"/>
<text transform="translate(1519.40,1253.90) rotate(-90) scale(0.993,1)" font-size="47" text-anchor="middle" font-weight="normal" stroke="#000" stroke-width="0.5"><tspan>Male glycemia AUC (mg.h.dL</tspan><tspan font-size="35" dy="-19.7">-1</tspan><tspan dy="19.7">)</tspan></text>
<text transform="translate(1594.94,895.00) scale(0.7357,1)" font-size="58.14" font-weight="bold">F</text>
</g></svg>
</body></html>
